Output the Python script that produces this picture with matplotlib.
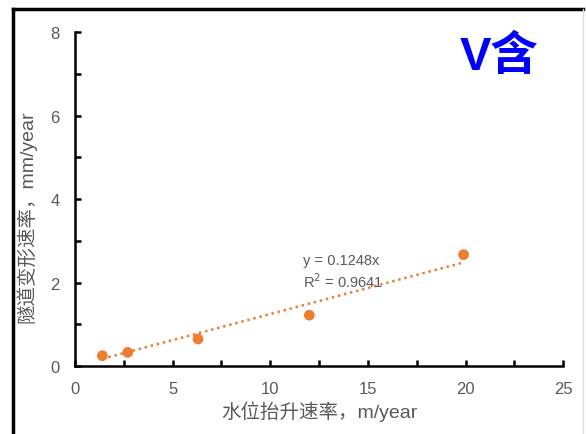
import numpy as np
import matplotlib.pyplot as plt
from matplotlib.lines import Line2D

plt.rcParams['font.family'] = ['Liberation Sans', 'Noto Sans CJK SC', 'DejaVu Sans']

rise_rate = [1.4, 2.7, 6.3, 12.0, 19.9]
deform_rate = [0.25, 0.33, 0.65, 1.22, 2.67]
slope = 0.1248
r2 = 0.9641
x_label = "水位抬升速率，m/year"
y_label = "隧道变形速率，mm/year"
tag = "V含"

orange = "#ED7D31"
gray = "#595959"

fig = plt.figure(figsize=(5.86, 4.35), dpi=100)
ax = fig.add_axes([0.128, 0.156, 0.833, 0.768])

xs = np.array([min(rise_rate), max(rise_rate)])
ax.plot(xs, slope * xs, linestyle=(0, (1, 1.5)), color=orange, lw=1.8, zorder=2)
ax.scatter(rise_rate, deform_rate, s=60, color=orange, zorder=3, edgecolors='none')

ax.set_xlim(0, 25)
ax.set_ylim(0, 8)
ax.set_xticks(np.arange(0, 26, 5))
ax.set_xticks(np.arange(0, 25.1, 2.5), minor=True)
ax.set_yticks(np.arange(0, 9, 2))
ax.set_yticks(np.arange(0, 9, 1), minor=True)

for s in ['top', 'right']:
    ax.spines[s].set_visible(False)
for s in ['left', 'bottom']:
    ax.spines[s].set_linewidth(1.8)
ax.tick_params(which='both', direction='in', length=4, width=1.8, colors='black',
               labelcolor=gray, labelsize=12, pad=11)

ax.set_xlabel(x_label, fontsize=14, color=gray, labelpad=3)
ax.set_ylabel(y_label, fontsize=14, color=gray)
ax.yaxis.set_label_coords(-0.078, 0.45)

ax.text(11.7, 2.55, f"y = {slope}x", fontsize=10.5, color=gray, va='center')
ax.text(11.7, 2.05, f"R$^2$ = {r2}", fontsize=10.5, color=gray, va='center')

fig.text(0.851, 0.867, tag, fontsize=34, fontweight='bold', color='#0000FF',
         ha='center', va='center')

# frame around picture
fig.add_artist(Line2D([13/586, 583/586], [1 - 10/435, 1 - 10/435], color='black', lw=2.5))
fig.add_artist(Line2D([13/586, 13/586], [0, 1 - 10/435], color='black', lw=2.5))
fig.add_artist(Line2D([583/586, 583/586], [0, 1 - 10/435], color='#dddddd', lw=1))

fig.savefig("out.png", dpi=100)
